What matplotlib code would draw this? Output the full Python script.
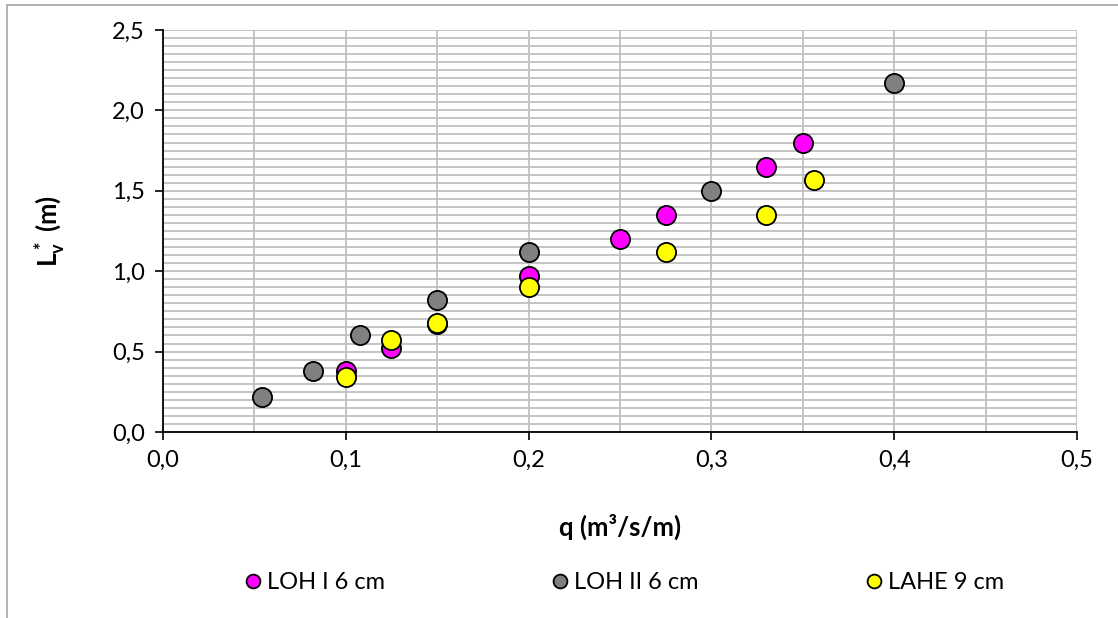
import matplotlib
matplotlib.use("Agg")
import matplotlib.pyplot as plt
from matplotlib.ticker import MultipleLocator, FuncFormatter
from matplotlib.patches import Rectangle

plt.rcParams['font.family'] = ['Lato', 'DejaVu Sans']
plt.rcParams['mathtext.fontset'] = 'custom'
plt.rcParams['mathtext.rm'] = 'Lato'
plt.rcParams['mathtext.bf'] = 'Lato:bold'

# LOH I 6 cm
q_loh1 = [0.100, 0.125, 0.150, 0.200, 0.250, 0.275, 0.330, 0.350]
lv_loh1 = [0.38, 0.52, 0.67, 0.97, 1.20, 1.35, 1.65, 1.80]

# LOH II 6 cm
q_loh2 = [0.054, 0.082, 0.108, 0.150, 0.200, 0.300, 0.400]
lv_loh2 = [0.22, 0.38, 0.60, 0.82, 1.12, 1.50, 2.17]

# LAHE 9 cm
q_lahe = [0.100, 0.125, 0.150, 0.200, 0.275, 0.330, 0.356]
lv_lahe = [0.34, 0.57, 0.68, 0.90, 1.12, 1.35, 1.57]

series = [
    ("LOH I 6 cm", q_loh1, lv_loh1, "#FF00FF"),
    ("LOH II 6 cm", q_loh2, lv_loh2, "#808080"),
    ("LAHE 9 cm", q_lahe, lv_lahe, "#FFFF00"),
]

fig = plt.figure(figsize=(11.18, 6.18), dpi=100)
ax = fig.add_axes([0.1458, 0.301, 0.8175, 0.6505])

# outer frame of the chart area
fig.patches.append(Rectangle((7 / 1118, -0.1), 1.2, 1.1 - 5 / 618,
                             transform=fig.transFigure, fill=False,
                             edgecolor="#a6a6a6", lw=1.2))

for name, x, y, c in series:
    ax.plot(x, y, "o", ls="none", ms=13.8, mfc=c, mec="black", mew=1.3,
            label=name, zorder=3, clip_on=False)

ax.set_xlim(0, 0.5)
ax.set_ylim(0, 2.5)

comma = FuncFormatter(lambda v, p: f"{v:.1f}".replace(".", ","))
ax.xaxis.set_major_locator(MultipleLocator(0.1))
ax.xaxis.set_minor_locator(MultipleLocator(0.05))
ax.yaxis.set_major_locator(MultipleLocator(0.5))
ax.yaxis.set_minor_locator(MultipleLocator(0.05))
ax.xaxis.set_major_formatter(comma)
ax.yaxis.set_major_formatter(comma)

ax.xaxis.grid(True, which="both", color="#bfbfbf", lw=1.3)
ax.yaxis.grid(True, which="both", color="#bfbfbf", lw=1.3)
ax.set_axisbelow(True)

ax.tick_params(which="major", direction="out", length=6, width=1.2,
               color="black", labelsize=17, pad=7)
ax.tick_params(which="minor", length=0)

for s in ("top", "right"):
    ax.spines[s].set_visible(False)
for s in ("left", "bottom"):
    ax.spines[s].set_linewidth(1.3)
    ax.spines[s].set_zorder(2.5)

ax.set_xlabel("q (m³/s/m)", fontsize=18.5, fontweight="bold", va="center")
ax.xaxis.set_label_coords(0.5, -0.236)
ax.set_ylabel(r"$\mathbf{L_v^*}$ (m)", fontsize=18.5, fontweight="bold", va="center")
ax.yaxis.set_label_coords(-0.124, 0.5)

fig.legend(loc="center", bbox_to_anchor=(0.558, 0.057), ncol=3, frameon=False,
           fontsize=17, handlelength=0.8, handletextpad=0.2, columnspacing=7.0,
           markerscale=0.72)

fig.savefig("out.png", dpi=100)
